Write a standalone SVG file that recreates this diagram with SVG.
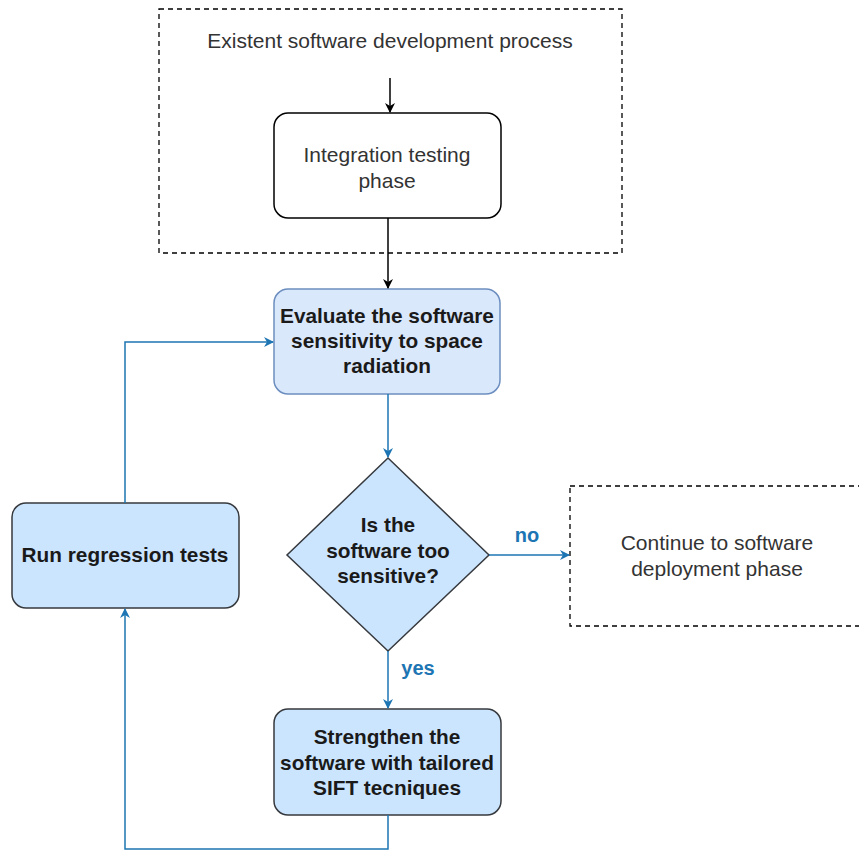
<svg xmlns="http://www.w3.org/2000/svg" width="859" height="850" viewBox="0 0 859 850">
<style>
text{font-family:"Liberation Sans",Arial,sans-serif;font-size:21px;text-anchor:middle;fill:#333333}
.b{font-weight:bold;fill:#1a1a1a;font-size:20.8px}
.lbl{font-weight:bold;fill:#1d75b3;font-size:20px}
.dash{fill:#ffffff;stroke:#000000;stroke-width:1.3;stroke-dasharray:5 4}
.blk{fill:none;stroke:#000000;stroke-width:1.5}
.blu{fill:none;stroke:#1d75b3;stroke-width:1.5}
</style>
<defs>
<marker id="ak" viewBox="0 0 10 10" refX="9" refY="5" markerWidth="10" markerHeight="10" markerUnits="userSpaceOnUse" orient="auto"><path d="M0,0 L10,5 L0,10 L3,5 Z" fill="#000000"/></marker>
<marker id="ab" viewBox="0 0 10 10" refX="9" refY="5" markerWidth="10" markerHeight="10" markerUnits="userSpaceOnUse" orient="auto"><path d="M0,0 L10,5 L0,10 L3,5 Z" fill="#1d75b3"/></marker>
</defs>
<g id="process-container">
<rect class="dash" x="159" y="9" width="463" height="244"/>
<text x="390" y="48">Existent software development process</text>
</g>
<g id="continue">
<rect class="dash" x="570" y="486" width="300" height="140"/>
<text x="717" y="550">Continue to software</text>
<text x="717" y="576">deployment phase</text>
</g>
<g id="integration">
<rect x="274" y="113" width="227" height="105" rx="14" fill="#ffffff" stroke="#000000" stroke-width="1.5"/>
<text x="387" y="162">Integration testing</text>
<text x="387" y="188">phase</text>
</g>
<g id="evaluate">
<rect x="274" y="289" width="226" height="105" rx="14" fill="#dae8fc" stroke="#6c8ebf" stroke-width="1.5"/>
<text class="b" x="387" y="323">Evaluate the software</text>
<text class="b" x="387" y="348">sensitivity to space</text>
<text class="b" x="387" y="373">radiation</text>
</g>
<g id="decision">
<polygon points="388,458 489,555 388,651 287,555" fill="#cce5ff" stroke="#36393d" stroke-width="1.5"/>
<text class="b" x="388" y="532">Is the</text>
<text class="b" x="388" y="558">software too</text>
<text class="b" x="388" y="583">sensitive?</text>
</g>
<g id="strengthen">
<rect x="274" y="709" width="227" height="106" rx="14" fill="#cce5ff" stroke="#36393d" stroke-width="1.5"/>
<text class="b" x="387" y="744">Strengthen the</text>
<text class="b" x="387" y="770">software with tailored</text>
<text class="b" x="387" y="795">SIFT tecniques</text>
</g>
<g id="regression">
<rect x="12" y="503" width="227" height="105" rx="14" fill="#cce5ff" stroke="#36393d" stroke-width="1.5"/>
<text class="b" x="125" y="562">Run regression tests</text>
</g>
<g id="connectors">
<path class="blk" d="M390,78 V112" marker-end="url(#ak)"/>
<path class="blk" d="M388,218 V288" marker-end="url(#ak)"/>
<path class="blu" d="M388,394 V457" marker-end="url(#ab)"/>
<path class="blu" d="M489,555 H569" marker-end="url(#ab)"/>
<text class="lbl" x="527" y="542">no</text>
<path class="blu" d="M388,651 V708" marker-end="url(#ab)"/>
<text class="lbl" x="418" y="675">yes</text>
<path class="blu" d="M388,815 V849 H125 V609" marker-end="url(#ab)"/>
<path class="blu" d="M125,503 V342 H273" marker-end="url(#ab)"/>
</g>
</svg>
